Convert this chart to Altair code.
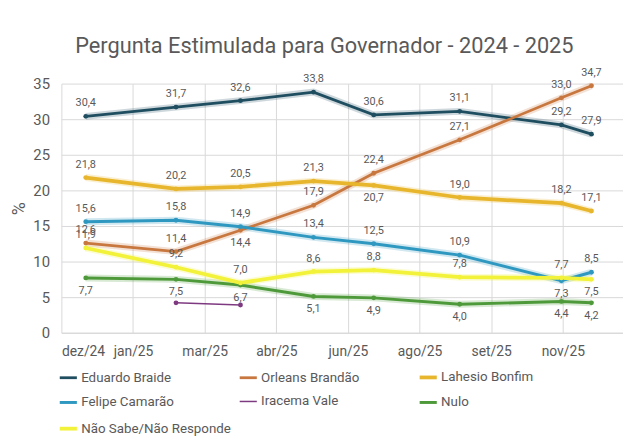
import altair as alt
import pandas as pd

FONT = "Roboto, sans-serif"
GRAY = "#595959"

DATES = ["2024-12-18", "2025-02-19", "2025-04-05", "2025-05-26",
         "2025-07-07", "2025-09-05", "2025-11-15", "2025-12-06"]
SERIES = ["Eduardo Braide", "Orleans Brandão", "Lahesio Bonfim",
          "Felipe Camarão", "Iracema Vale", "Nulo", "Não Sabe/Não Responde"]
EDUARDO = [30.4, 31.7, 32.6, 33.8, 30.6, 31.1, 29.2, 27.9]
ORLEANS = [12.6, 11.4, 14.4, 17.9, 22.4, 27.1, 33.0, 34.7]
LAHESIO = [21.8, 20.2, 20.5, 21.3, 20.7, 19.0, 18.2, 17.1]
FELIPE = [15.6, 15.8, 14.9, 13.4, 12.5, 10.9, 7.3, 8.5]
IRACEMA = [None, 4.2, 3.9, None, None, None, None, None]
NULO = [7.7, 7.5, 6.7, 5.1, 4.9, 4.0, 4.4, 4.2]
NAO_SABE = [11.9, 9.2, 7.0, 8.6, 8.8, 7.8, 7.7, 7.5]
COLORS = ["#1F4E60", "#C8773F", "#E8B62C", "#2F98C0", "#7E3A80", "#4E9A3A", "#F2F23A"]
WIDTHS = [2.8, 2.8, 3.8, 3, 1.5, 3, 3.8]

TICK_DATES = ["2024-12-01", "2025-01-20", "2025-03-11", "2025-04-30",
              "2025-06-19", "2025-08-08", "2025-09-27", "2025-11-16"]
TICK_LABELS = ["dez/24", "jan/25", "mar/25", "abr/25",
               "jun/25", "ago/25", "set/25", "nov/25"]
X_END = "2025-12-28"

# label placement: a = above, b = below, n = none
PLACE = {
    "Eduardo Braide": "aaaaaaaa",
    "Orleans Brandão": "aabaaaaa",
    "Lahesio Bonfim": "aaaabaaa",
    "Felipe Camarão": "aaaaaaba",
    "Iracema Vale": "nnnnnnnn",
    "Nulo": "bbbbbbbb",
    "Não Sabe/Não Responde": "aaaaaaab",
}

values = [EDUARDO, ORLEANS, LAHESIO, FELIPE, IRACEMA, NULO, NAO_SABE]
rows = []
for k, (name, vals) in enumerate(zip(SERIES, values)):
    for i, (d, v) in enumerate(zip(DATES, vals)):
        if v is None:
            continue
        rows.append({"series": name, "date": d + "T00:00:00", "value": v,
                     "pos": PLACE[name][i], "k": k})
df = pd.DataFrame(rows)


def dt(s):
    y, m, d = (int(p) for p in s.split("-"))
    return alt.DateTime(year=y, month=m, date=d)


tick_str = "[" + ",".join("'%s'" % d for d in TICK_DATES) + "]"
lab_str = "[" + ",".join("'%s'" % l for l in TICK_LABELS) + "]"
label_expr = "%s[indexof(%s, timeFormat(datum.value, '%%Y-%%m-%%d'))]" % (lab_str, tick_str)

x = alt.X("date:T",
          scale=alt.Scale(domain=[dt(TICK_DATES[0]), dt(X_END)]),
          axis=alt.Axis(values=[dt(d) for d in TICK_DATES], labelExpr=label_expr,
                        title=None, grid=True, gridColor="#D9D9D9", domainColor="#D9D9D9",
                        ticks=False, labelFontSize=14, labelColor=GRAY, labelFont=FONT,
                        labelPadding=12, labelOverlap=False))
y = alt.Y("value:Q", scale=alt.Scale(domain=[0, 35]),
          axis=alt.Axis(values=[0, 5, 10, 15, 20, 25, 30, 35], title="%",
                        titleFontSize=18, titleColor=GRAY, titleFont=FONT,
                        titleFontWeight="normal", titlePadding=4,
                        labelFontSize=15, labelColor=GRAY, labelFont=FONT,
                        gridColor="#D9D9D9", domain=False, ticks=False, labelPadding=12))
color = alt.Color("series:N", scale=alt.Scale(domain=SERIES, range=COLORS),
                  legend=alt.Legend(title=None, orient="none", legendX=-4, legendY=286,
                                    direction="horizontal",
                                    columns=3, gridAlign="all", columnPadding=0,
                                    rowPadding=7, symbolType="stroke",
                                    symbolStrokeWidth=3, symbolSize=300, symbolOpacity=1,
                                    labelFontSize=13.5, labelColor=GRAY, labelFont=FONT,
                                    labelLimit=400, labelOffset=2))
width = alt.StrokeWidth("series:N",
                        scale=alt.Scale(type="ordinal", domain=SERIES, range=WIDTHS),
                        legend=None)

base = alt.Chart(df)
glow = base.transform_filter("datum.series != 'Iracema Vale'").mark_line(
    strokeWidth=7, opacity=0.22).encode(x=x, y=y, color=color, detail="series:N")
line = base.mark_line().encode(x=x, y=y, color=color, strokeWidth=width)
pts = base.mark_circle(size=24, opacity=1).encode(x=x, y=y, color=color)
txt = base.transform_calculate(lab="replace(format(datum.value, '.1f'), '.', ',')")
above = txt.transform_filter("datum.pos == 'a'").mark_text(
    dy=-13, fontSize=11, color=GRAY, font=FONT).encode(x=x, y=y, text="lab:N")
below = txt.transform_filter("datum.pos == 'b'").mark_text(
    dy=13, fontSize=11, color=GRAY, font=FONT).encode(x=x, y=y, text="lab:N")

chart = alt.layer(glow, line, pts, above, below).properties(
    width=568, height=252,
    autosize=alt.AutoSizeParams(type="none"),
    padding={"left": 54, "top": 74, "right": 0, "bottom": 104},
    title=alt.Title("Pergunta Estimulada para Governador - 2024 - 2025",
                    fontSize=22, color=GRAY, font=FONT, fontWeight="normal",
                    anchor="middle", dx=-18, offset=9),
).configure_view(strokeWidth=0)

chart.save("out.html", embed_options={"renderer": "svg", "actions": False})
